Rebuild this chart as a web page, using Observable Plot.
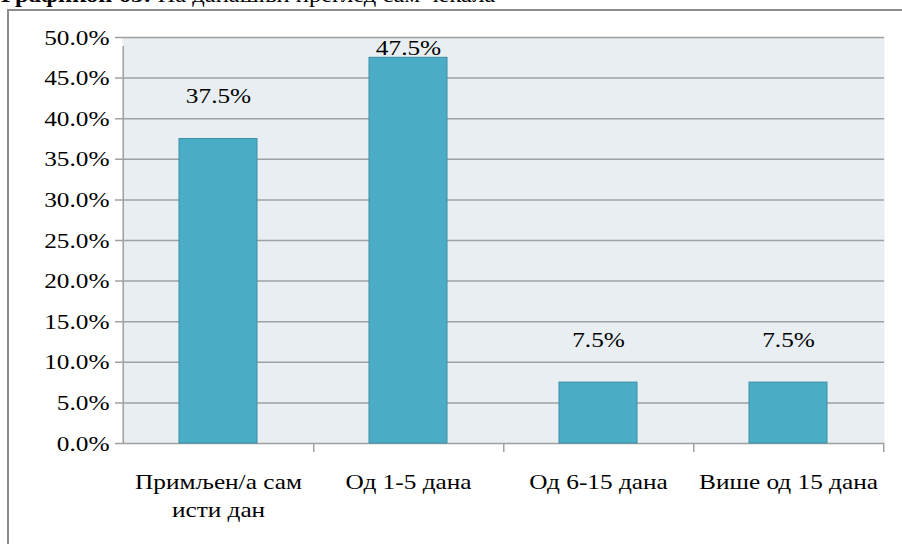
<!DOCTYPE html>
<html>
<head>
<meta charset="utf-8">
<script src="https://cdn.jsdelivr.net/npm/d3@7"></script>
<script src="https://cdn.jsdelivr.net/npm/@observablehq/plot@0.6"></script>
<style>
  html, body { margin: 0; padding: 0; background: #fff; overflow: hidden; }
  #wrap { position: relative; width: 902px; height: 544px; overflow: hidden; }
  #title { position: absolute; left: 1px; top: -15px; font-family: 'Liberation Serif', 'Times New Roman', serif;
           font-size: 21px; line-height: 21px; white-space: nowrap; color: #000;
           transform: scaleX(1.17); transform-origin: 0 0; }
  #frame { position: absolute; left: 7px; top: 9px; width: 1000px; height: 700px;
           border-left: 2px solid #8c8c8c; border-top: 2px solid #8c8c8c; }
  #chart { position: absolute; left: 0; top: 0; }
  #chart svg, #chart svg text { font-family: 'Liberation Serif', 'Times New Roman', serif !important; }
</style>
</head>
<body>
<div id="wrap">
  <div id="title"><b>Графикон 63:</b> На данашњи преглед сам чекала</div>
  <div id="frame"></div>
  <div id="chart"></div>
</div>
<script>
const categories = ["Примљен/а сам\nисти дан", "Од 1-5 дана", "Од 6-15 дана", "Више од 15 дана"];
const values = [37.5, 47.5, 7.5, 7.5];
const yTicks = [0, 5, 10, 15, 20, 25, 30, 35, 40, 45, 50];

const data = categories.map((c, i) => ({category: c, value: values[i]}));

const W = 902, H = 544;
const mL = 122, mR = 18, mT = 37, mB = 101;
const step = (W - mL - mR) / categories.length;
const gridColor = "#a0a0a0";
const stretch = 1.15;

const chart = Plot.plot({
  width: W,
  height: H,
  marginLeft: mL,
  marginRight: mR,
  marginTop: mT,
  marginBottom: mB,
  style: {fontSize: "22px", color: "#000", background: "transparent", overflow: "visible"},
  x: {domain: categories, paddingInner: 0.59, paddingOuter: 0.295, axis: null},
  y: {domain: [0, 50], ticks: yTicks, tickFormat: d => d.toFixed(1) + "%", tickSize: 0, tickPadding: 13, label: null},
  marks: [
    Plot.frame({fill: "#e8eef2", stroke: null}),
    Plot.ruleY(yTicks, {stroke: gridColor, strokeWidth: 1.5, insetLeft: -7}),
    Plot.ruleX([categories[0]], {x: d => d, dx: -step / 2, y1: 0, y2: 50, stroke: gridColor, strokeWidth: 1.5, insetBottom: -9}),
    Plot.ruleX(categories, {x: d => d, dx: step / 2, y1: 0, y2: 0, stroke: gridColor, strokeWidth: 1.5, insetBottom: -9}),
    Plot.barY(data, {x: "category", y: "value", fill: "#4bacc6", stroke: "#3b8ea6", strokeWidth: 1}),
    Plot.text(data, {
      x: "category",
      y: d => Math.min(d.value + 5.3, 48.7),
      text: d => d.value.toFixed(1) + "%",
      fontSize: 22,
      fill: "#000"
    }),
    Plot.text(categories, {
      x: d => d,
      y: 0,
      text: d => d,
      lineAnchor: "top",
      dy: 26,
      lineHeight: 1.27,
      fontSize: 22,
      fill: "#000"
    })
  ]
});
document.getElementById("chart").appendChild(chart);

// widen glyphs horizontally (reference text is horizontally stretched), anchored at each text's own x
chart.querySelectorAll("text").forEach(t => {
  const x = parseFloat(t.getAttribute("x")) || 0;
  const tr = t.getAttribute("transform") || "";
  t.setAttribute("transform", `${tr} translate(${x},0) scale(${stretch},1) translate(${-x},0)`.trim());
});
</script>
</body>
</html>
